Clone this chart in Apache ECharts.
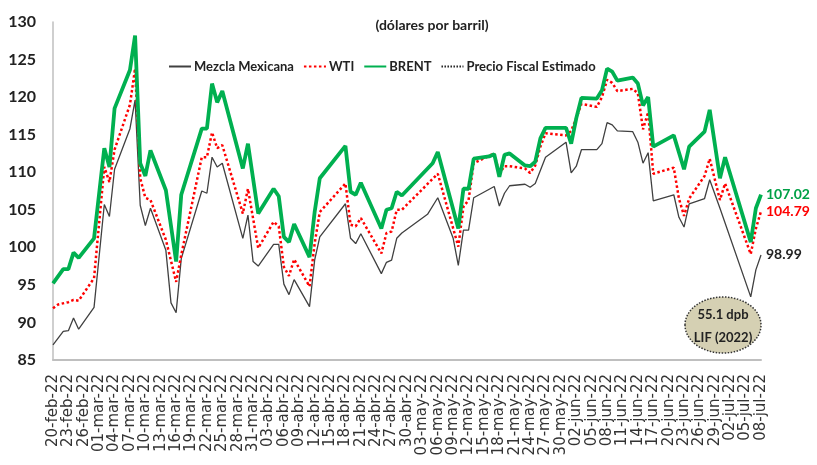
<!DOCTYPE html>
<html>
<head>
<meta charset="utf-8">
<script src="https://cdn.jsdelivr.net/npm/echarts@6/dist/echarts.min.js"></script>
<style>
  html, body { margin: 0; padding: 0; background: #fff; }
  #chart { width: 817px; height: 465px; }
</style>
</head>
<body>
<div id="chart"></div>
<script>
// calendar days 20-feb-22 .. 08-jul-22, weekends / holidays left empty
const monthNames = ['ene', 'feb', 'mar', 'abr', 'may', 'jun', 'jul', 'ago', 'sep', 'oct', 'nov', 'dic']
const firstDay = Date.UTC(2022, 1, 20)
const dayCount = 139
const dates = []
for (let i = 0; i < dayCount; i++) {
  const d = new Date(firstDay + i * 86400000)
  dates.push(String(d.getUTCDate()).padStart(2, '0') + '-' + monthNames[d.getUTCMonth()] + '-22')
}

// one row per week, Sun .. Sat
const mezcla = [
  87.0, null, 88.8, 88.9, 90.6, 89.1, null,
  null, 92.0, null, 105.7, 104.1, 110.4, null,
  null, 115.8, 119.6, 105.6, 102.9, 105.2, null,
  null, 99.6, 92.6, 91.3, 98.5, null, null,
  null, 107.5, 107.2, 112.0, 110.7, 111.2, null,
  null, null, 101.2, 104.3, 98.1, 97.5, null,
  null, 100.4, 100.4, 95.1, 93.7, 95.7, null,
  null, 92.1, 98.3, 101.4, null, null, null,
  null, 105.8, 101.2, 100.5, 101.8, null, null,
  null, 96.5, 98.0, 98.3, 101.2, 101.9, null,
  null, null, null, 104.4, null, 106.6, null,
  null, 101.2, 97.6, 102.3, 102.3, 106.6, null,
  null, null, 108.1, 105.5, 107.2, 108.2, null,
  null, 108.4, 108.0, 108.5, null, 112.0, null,
  null, null, 114.0, 109.9, 110.8, 113.0, null,
  null, 113.0, 113.8, 116.6, 116.3, 115.5, null,
  null, 115.4, 114.0, 111.2, 112.6, 106.2, null,
  null, null, 107.0, 104.0, 102.7, 105.8, null,
  null, 106.5, 109.0, null, 105.2, null, null,
  null, null, null, 93.4, 97.0, 98.99
]

const wti = [
  91.9, 92.4, null, 92.7, 93.0, 92.9, null,
  null, 95.9, null, 110.7, 108.7, 113.0, null,
  null, 119.0, 123.8, 109.2, 106.6, 106.3, null,
  null, 101.0, null, 95.4, 99.0, null, null,
  null, 112.0, 112.0, 115.3, 113.2, 113.6, null,
  null, null, 104.5, 107.8, null, 99.9, null,
  null, 103.4, 102.8, 97.4, 96.2, 98.4, null,
  null, 94.8, 100.5, 104.7, null, null, null,
  null, 108.5, 103.0, 102.8, 103.9, null, null,
  null, 99.2, 101.9, 102.1, 105.0, 105.0, null,
  null, null, null, null, null, 109.8, null,
  null, null, 100.1, 105.4, 106.3, 111.2, null,
  null, null, 112.5, 109.8, 110.8, 110.8, null,
  null, 110.5, 109.9, 110.9, 113.4, 115.2, null,
  null, null, 114.9, 115.5, 117.2, 119.1, null,
  null, 118.7, 120.0, 122.3, 121.9, 120.8, null,
  null, 121.1, 120.5, 115.7, 118.0, 109.8, null,
  null, null, 110.6, 106.5, 104.2, 106.5, null,
  null, 109.5, 111.8, null, 106.3, 108.5, null,
  null, null, null, 99.1, 102.5, 104.79
]

const brent = [
  95.2, null, 97.1, 97.1, 99.3, 98.6, null,
  null, 101.2, null, 113.2, 110.7, 118.5, null,
  null, 123.6, 128.2, 111.2, 109.5, 112.9, null,
  null, 107.6, null, 98.1, 107.0, null, null,
  null, 115.8, 115.8, 121.8, 119.3, 120.8, null,
  null, null, 110.5, 113.8, null, 104.5, null,
  null, 107.8, 106.8, 101.4, 100.7, 103.1, null,
  null, 98.7, 104.7, 109.2, null, null, null,
  null, 113.5, 107.4, 107.0, 108.6, null, null,
  null, 102.5, 105.0, 105.2, 107.4, 106.9, null,
  null, null, null, null, 111.2, 112.7, null,
  null, null, 102.5, 107.8, 107.8, 111.8, null,
  null, 112.1, 112.4, 109.4, 112.3, 112.5, null,
  null, 110.9, 110.8, 111.4, 114.5, 115.9, null,
  null, null, 115.9, 113.8, 117.2, 119.9, null,
  null, 119.8, 120.9, 123.8, 123.4, 122.2, null,
  null, 122.6, 121.8, 118.9, 120.0, 113.4, null,
  null, null, 114.9, null, 110.4, 113.4, null,
  null, 115.4, 118.3, null, 109.2, 112.0, null,
  null, null, null, 100.7, 105.2, 107.02
]

// precio fiscal LIF 2022 (sits below the axis minimum)
const fiscalPrice = 55.1
const fiscal = dates.map(() => fiscalPrice)

const uiFont = "Lato, 'Open Sans', sans-serif"

const endLabel = (color) => ({
  show: true,
  formatter: p => Number(p.value).toFixed(2),
  color: color,
  fontFamily: uiFont,
  fontWeight: 'bold',
  fontSize: 14,
  distance: 5
})

const chart = echarts.init(document.getElementById('chart'))
chart.setOption({
  animation: false,
  title: {
    text: '(dólares por barril)',
    left: 427,
    top: 13,
    textAlign: 'center',
    textStyle: { fontFamily: uiFont, fontWeight: 'bold', fontSize: 14, color: '#222' }
  },
  legend: {
    left: 163,
    top: 55,
    itemGap: 9,
    itemWidth: 22,
    itemHeight: 10,
    itemStyle: { opacity: 0 },
    textStyle: { fontFamily: uiFont, fontWeight: 'bold', fontSize: 13, color: '#222', padding: [0, 0, 0, -2] },
    data: ['Mezcla Mexicana', 'WTI', 'BRENT', 'Precio Fiscal Estimado']
  },
  grid: { left: 53, right: 56, top: 22, bottom: 105 },
  xAxis: {
    type: 'category',
    data: dates,
    boundaryGap: false,
    axisLine: { lineStyle: { color: '#BFBFBF', width: 2 } },
    axisTick: { show: false },
    axisLabel: {
      interval: 2,
      rotate: 90,
      margin: 14,
      fontFamily: "'DejaVu Sans', sans-serif",
      fontSize: 15,
      color: '#333'
    }
  },
  yAxis: {
    type: 'value',
    min: 85,
    max: 130,
    interval: 5,
    axisLine: { show: true, lineStyle: { color: '#BFBFBF', width: 1.5 } },
    axisTick: { show: false },
    splitLine: { show: false },
    axisLabel: { fontFamily: uiFont, fontWeight: 'bold', fontSize: 16, color: '#222', margin: 17 }
  },
  series: [
    {
      name: 'Mezcla Mexicana',
      type: 'line',
      data: mezcla,
      connectNulls: true,
      symbol: 'none',
      itemStyle: { color: '#404040' },
      lineStyle: { color: '#404040', width: 1.3 },
      endLabel: endLabel('#222')
    },
    {
      name: 'WTI',
      type: 'line',
      data: wti,
      connectNulls: true,
      symbol: 'none',
      itemStyle: { color: '#FF0000' },
      lineStyle: { color: '#FF0000', width: 2.5, type: [2.5, 2.5] },
      endLabel: endLabel('#FF0000')
    },
    {
      name: 'BRENT',
      type: 'line',
      data: brent,
      connectNulls: true,
      symbol: 'none',
      itemStyle: { color: '#00B050' },
      lineStyle: { color: '#00B050', width: 3.8 },
      endLabel: endLabel('#00A046')
    },
    {
      name: 'Precio Fiscal Estimado',
      type: 'line',
      data: fiscal,
      symbol: 'none',
      itemStyle: { color: '#222' },
      lineStyle: { color: '#222', width: 1.5, type: [1.5, 1.5] }
    }
  ],
  graphic: [
    {
      type: 'ellipse',
      shape: { cx: 723, cy: 325, rx: 38, ry: 28 },
      style: { fill: '#D5D0B3', stroke: '#333', lineWidth: 1.5, lineDash: [1.5, 1.5] }
    },
    {
      type: 'text',
      x: 723,
      y: 315,
      style: {
        text: '55.1 dpb',
        fill: '#222',
        font: 'bold 13px ' + uiFont,
        align: 'center',
        verticalAlign: 'middle'
      }
    },
    {
      type: 'text',
      x: 723,
      y: 338,
      style: {
        text: 'LIF (2022)',
        fill: '#222',
        font: 'bold 13px ' + uiFont,
        align: 'center',
        verticalAlign: 'middle'
      }
    }
  ]
})
</script>
</body>
</html>
